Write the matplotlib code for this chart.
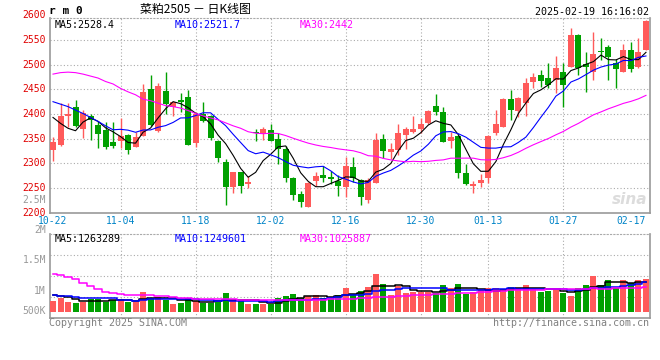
#! /usr/bin/python3
"""RM 2505 daily candlestick chart (Sina style) with MA lines and volume."""
import numpy as np
import pandas as pd
import matplotlib
matplotlib.use('Agg')
import matplotlib.pyplot as plt

# Trading days shown (exchange closed on New Year and Spring Festival)
holidays = ['2025-01-01', '2025-01-28', '2025-01-29', '2025-01-30',
            '2025-01-31', '2025-02-03', '2025-02-04']
days = pd.bdate_range('2024-10-22', '2025-02-19')
days = days[~days.isin(pd.to_datetime(holidays))]

opens = [2326, 2337, 2395, 2414, 2370, 2396, 2378, 2368, 2343, 2346,
         2358, 2332, 2355, 2451, 2366, 2447, 2415, 2429, 2435, 2342,
         2400, 2395, 2345, 2303, 2251, 2282, 2257, 2364, 2360, 2368,
         2349, 2328, 2270, 2238, 2212, 2263, 2276, 2273, 2264, 2251,
         2293, 2266, 2226, 2259, 2349, 2322, 2326, 2358, 2364, 2370,
         2381, 2416, 2404, 2346, 2355, 2280, 2253, 2259, 2270, 2362,
         2374, 2430, 2407, 2422, 2464, 2479, 2473, 2469, 2486, 2496,
         2561, 2502, 2486, 2528, 2536, 2504, 2486, 2530, 2496, 2530]
highs = [2354, 2422, 2422, 2429, 2408, 2400, 2385, 2384, 2383, 2391,
         2360, 2364, 2461, 2479, 2462, 2485, 2426, 2442, 2449, 2405,
         2425, 2398, 2347, 2309, 2282, 2283, 2274, 2369, 2374, 2380,
         2362, 2335, 2273, 2244, 2261, 2283, 2295, 2284, 2276, 2312,
         2313, 2268, 2270, 2362, 2360, 2341, 2380, 2374, 2395, 2391,
         2408, 2441, 2415, 2364, 2358, 2299, 2263, 2278, 2358, 2408,
         2432, 2449, 2434, 2473, 2483, 2489, 2504, 2517, 2503, 2574,
         2563, 2525, 2567, 2554, 2540, 2511, 2542, 2547, 2554, 2591]
lows = [2305, 2335, 2374, 2374, 2351, 2347, 2330, 2328, 2330, 2330,
        2319, 2332, 2355, 2376, 2364, 2401, 2395, 2405, 2337, 2332,
        2384, 2347, 2303, 2215, 2240, 2240, 2249, 2345, 2347, 2346,
        2298, 2261, 2226, 2212, 2212, 2253, 2261, 2258, 2234, 2232,
        2261, 2215, 2219, 2259, 2310, 2308, 2317, 2328, 2362, 2362,
        2380, 2398, 2344, 2330, 2271, 2256, 2239, 2251, 2259, 2358,
        2373, 2388, 2393, 2395, 2452, 2454, 2452, 2442, 2414, 2496,
        2479, 2445, 2469, 2510, 2469, 2452, 2486, 2486, 2493, 2530]
closes = [2344, 2396, 2399, 2376, 2403, 2387, 2360, 2334, 2335, 2355,
          2327, 2353, 2445, 2378, 2457, 2420, 2425, 2425, 2337, 2401,
          2385, 2351, 2311, 2251, 2282, 2253, 2261, 2361, 2370, 2346,
          2328, 2271, 2236, 2222, 2259, 2274, 2271, 2269, 2253, 2295,
          2270, 2232, 2266, 2347, 2324, 2328, 2362, 2370, 2370, 2380,
          2406, 2405, 2344, 2354, 2281, 2258, 2258, 2267, 2355, 2379,
          2431, 2408, 2432, 2462, 2475, 2468, 2459, 2494, 2459, 2561,
          2494, 2496, 2522, 2525, 2515, 2491, 2530, 2491, 2525, 2589]
volumes = [466000, 593000, 424000, 381000, 395000, 537000, 537000, 395000, 508000, 551000,
           424000, 395000, 847000, 593000, 607000, 494000, 339000, 381000, 593000, 438000,
           353000, 353000, 395000, 805000, 494000, 494000, 297000, 339000, 325000, 325000,
           593000, 650000, 734000, 579000, 636000, 720000, 579000, 565000, 720000, 1017000,
           763000, 890000, 1059000, 1610000, 1186000, 720000, 1073000, 805000, 847000, 847000,
           819000, 791000, 1144000, 1017000, 1186000, 749000, 819000, 918000, 975000, 975000,
           932000, 1059000, 975000, 1102000, 960000, 819000, 890000, 960000, 805000, 678000,
           1017000, 1144000, 1497000, 1144000, 1356000, 1017000, 1314000, 1215000, 1356000, 1398000]

# Moving averages at the start of the window depend on earlier days
ma5_head = [2393, 2381, 2371, 2366]
ma10_head = [2425, 2420, 2415, 2408, 2401, 2393, 2385, 2376, 2368]
ma30_head = [2481, 2484, 2485, 2484, 2481, 2477, 2473, 2466, 2461, 2452,
             2445, 2439, 2430, 2427, 2422, 2417, 2415, 2412, 2407, 2401,
             2396, 2392, 2388, 2382, 2376, 2371, 2364, 2361, 2360]
vma5_head = [700000, 657000, 630000, 530000]
vma10_head = [713000, 670000, 640000, 600000, 586000, 586000, 586000, 586000, 560000]
vma30_head = [1575000, 1560000, 1476000, 1360000, 1220000, 1080000, 953000, 840000, 770000, 727000,
              700000, 700000, 700000, 685000, 670000, 657000, 630000, 586000, 560000, 544000,
              530000, 530000, 516000, 516000, 516000, 500000, 500000, 490000, 490000]

# Header texts as printed on the chart
price_ma_text = ['MA5:2528.4', 'MA10:2521.7', 'MA30:2442']
vol_ma_text = ['MA5:1263289', 'MA10:1249601', 'MA30:1025887']
price_ticks = [2200, 2250, 2300, 2350, 2400, 2450, 2500, 2550, 2600]
vol_tick_labels = ['2.5M', '2M', '1.5M', '1M', '500K']
tick_dates = ['10-22', '11-04', '11-18', '12-02', '12-16', '12-30', '01-13', '01-27', '02-17']

RED = '#ff5a5a'
GREEN = '#00a000'
GRID = '#aaaaaa'
MONO = 'DejaVu Sans Mono'


def moving_avg(values, n, head):
    ma = pd.Series(values, dtype=float).rolling(n).mean().to_numpy()
    ma[:len(head)] = head
    return ma


W, H = 660, 360
fig = plt.figure(figsize=(W / 100, H / 100), dpi=100)


def px_axes(left, top, right, bottom):
    return fig.add_axes([left / W, 1 - bottom / H, (right - left) / W, (bottom - top) / H])


def px_text(x, y, s, **kw):
    kw.setdefault('family', MONO)
    kw.setdefault('va', 'center')
    return fig.text(x / W, 1 - y / H, s, **kw)


ax = px_axes(50, 18.3, 649.5, 213.3)
axv = px_axes(50, 234, 649.5, 318)

n = len(closes)
x = np.arange(n)
o = np.array(opens, float)
c = np.array(closes, float)
up = c >= o
colors = np.where(up, RED, GREEN)

# Candles
ax.vlines(x, lows, highs, colors=colors, lw=1.0, zorder=2)
body = np.maximum(np.abs(c - o), 2.0)
ax.bar(x, body, bottom=np.minimum(o, c), width=0.8, color=colors, lw=0, zorder=3)

ax.plot(x, moving_avg(closes, 5, ma5_head), color='black', lw=0.8, zorder=4)
ax.plot(x, moving_avg(closes, 10, ma10_head), color='#0000ff', lw=0.8, zorder=4)
ax.plot(x, moving_avg(closes, 30, ma30_head), color='#ff00ff', lw=0.8, zorder=4)

# Volume
axv.bar(x, volumes, width=0.8, color=colors, lw=0, zorder=3)
axv.plot(x, moving_avg(volumes, 5, vma5_head), color='black', lw=1.1, drawstyle='steps-mid', zorder=4)
axv.plot(x, moving_avg(volumes, 10, vma10_head), color='#0000ff', lw=1.1, drawstyle='steps-mid', zorder=4)
axv.plot(x, moving_avg(volumes, 30, vma30_head), color='#ff00ff', lw=1.1, drawstyle='steps-mid', zorder=4)

day_labels = list(days.strftime('%m-%d'))
tick_idx = [day_labels.index(d) for d in tick_dates]

ax.set_ylim(2198.4, 2594.3)
axv.set_ylim(-275000, 3284000)
for a in (ax, axv):
    a.set_xlim(-0.4, n - 1 + 0.47)
    a.set_xticks([])
    a.set_yticks([])
    for side in ('left', 'bottom', 'right'):
        a.spines[side].set_color('#999999')
        a.spines[side].set_linewidth(1.2)
    a.spines['top'].set_color(GRID)
    a.spines['top'].set_linestyle((0, (1, 2)))
    a.spines['top'].set_linewidth(0.8)
    for i in tick_idx[1:-1]:
        a.axvline(i, color=GRID, lw=0.8, ls=(0, (1, 2)), zorder=1)

for v in price_ticks[1:-1]:
    ax.axhline(v, color=GRID, lw=0.8, ls=(0, (1, 2)), zorder=1)
for f in (0.25, 0.5, 0.75):
    axv.axhline(axv.get_ylim()[0] + f * np.diff(axv.get_ylim())[0],
                color=GRID, lw=0.8, ls=(0, (1, 2)), zorder=1)

# Axis labels
for v in price_ticks:
    ax.text(-0.0067, v, str(v), transform=ax.get_yaxis_transform(), ha='right', va='center',
            color='#e00000', fontsize=7, family=MONO, clip_on=False)
for lab, f in zip(vol_tick_labels, [1.401, 1.048, 0.69, 0.325, 0.083]):
    axv.text(-0.0067, f, lab, transform=axv.transAxes, ha='right', va='center',
             color='#999999', fontsize=7, family=MONO, clip_on=False)
for i, d in zip(tick_idx, tick_dates):
    ax.text(i, -0.042, d, transform=ax.get_xaxis_transform(), ha='center', va='center',
            color='#0084c8', fontsize=7, family=MONO, clip_on=False)

ax.text(0.997, 0.03, 'sina', transform=ax.transAxes, ha='right', va='bottom',
        fontsize=11, style='italic', weight='bold', color='#dcdcdc', zorder=0)

# Headers and footers
px_text(49, 11.5, 'r m 0', fontsize=8, weight='bold')
px_text(140, 9, '菜粕2505 － 日K线图', fontsize=8.6, family=['Noto Sans CJK SC', 'DejaVu Sans'])
px_text(649, 12, '2025-02-19 16:16:02', fontsize=7.2, ha='right')
for s, xx, col in zip(price_ma_text, [54.3, 174.3, 299.3], ['black', '#0000ff', '#ff00ff']):
    px_text(xx, 24.5, s, fontsize=7.2, color=col)
for s, xx, col in zip(vol_ma_text, [54.3, 174.3, 299.3], ['black', '#0000ff', '#ff00ff']):
    px_text(xx, 239.5, s, fontsize=7.2, color=col)
px_text(49, 323.5, 'Copyright 2025 SINA.COM', fontsize=7.2, color='#808080')
px_text(649, 323.5, 'http://finance.sina.com.cn', fontsize=7.2, color='#808080', ha='right')

fig.savefig('out.png', dpi=100, facecolor='white')
